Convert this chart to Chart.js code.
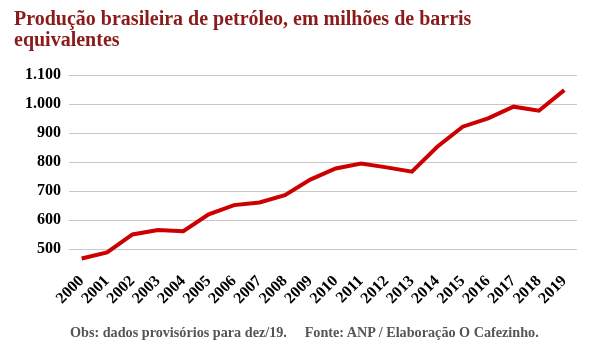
<!DOCTYPE html>
<html>
<head>
<meta charset="utf-8">
<script src="https://cdn.jsdelivr.net/npm/chart.js@4"></script>
<style>
  html, body { margin: 0; padding: 0; background: #fff; }
  #wrap { position: relative; width: 589px; height: 354px; }
  #footer {
    position: absolute; left: 70px; top: 324px; white-space: pre;
    font: bold 14.2px 'Liberation Serif', 'DejaVu Serif', serif; color: #555;
  }
</style>
</head>
<body>
<div id="wrap">
  <canvas id="oil-chart"></canvas>
  <div id="footer"></div>
</div>
<script>
// years on the x axis
const years = [
  '2000', '2001', '2002', '2003', '2004', '2005', '2006', '2007', '2008', '2009',
  '2010', '2011', '2012', '2013', '2014', '2015', '2016', '2017', '2018', '2019',
];

// production, millions of barrels equivalent
const production = [
  468, 489, 551, 566, 562, 620, 652, 661, 686, 740,
  778, 795, 782, 767, 853, 922, 951, 991, 977, 1048,
];

const titleLines = ['Produção brasileira de petróleo, em milhões de barris', 'equivalentes'];
const footerText = 'Obs: dados provisórios para dez/19.     Fonte: ANP / Elaboração O Cafezinho.';

const serif = "'Liberation Serif', 'DejaVu Serif', serif";

// format 1100 -> 1.100
const fmt = v => v.toString().replace(/\B(?=(\d{3})+(?!\d))/g, '.');

document.querySelector('#footer').textContent = footerText;

const config = {
  type: 'line',
  data: {
    labels: years,
    datasets: [
      {
        label: 'Produção',
        data: production,
        borderColor: '#cc0000',
        backgroundColor: '#cc0000',
        borderWidth: 4,
        pointRadius: 0,
        tension: 0,
      },
    ],
  },
  options: {
    responsive: true,
    maintainAspectRatio: false,
    animation: false,
    layout: {
      padding: { left: 14, right: 12, top: 9, bottom: 46 },
    },
    scales: {
      x: {
        offset: true,
        grid: { display: false },
        border: { display: false },
        ticks: {
          autoSkip: false,
          maxRotation: 45,
          minRotation: 45,
          color: '#000',
          font: { family: serif, size: 16, weight: 'bold' },
          padding: 0,
        },
      },
      y: {
        min: 450,
        max: 1100,
        afterBuildTicks: axis => {
          axis.ticks = [500, 600, 700, 800, 900, 1000, 1100].map(v => ({ value: v }));
        },
        afterFit: axis => {
          axis.width = 55; // keeps plot left edge at ~69px
        },
        grid: { color: '#c8c8c8', lineWidth: 1, drawTicks: false },
        border: { display: false },
        ticks: {
          color: '#000',
          padding: 8,
          font: { family: serif, size: 16, weight: 'bold' },
          callback: value => fmt(value),
        },
      },
    },
    plugins: {
      legend: { display: false },
      tooltip: { enabled: false },
      title: {
        display: true,
        text: titleLines,
        align: 'start',
        color: '#8b1a1a',
        font: { family: serif, size: 20, weight: 'bold', lineHeight: 1.05 },
        padding: { top: 0, bottom: 24 },
      },
    },
  },
};

new Chart(document.querySelector('#oil-chart'), config);
</script>
</body>
</html>
